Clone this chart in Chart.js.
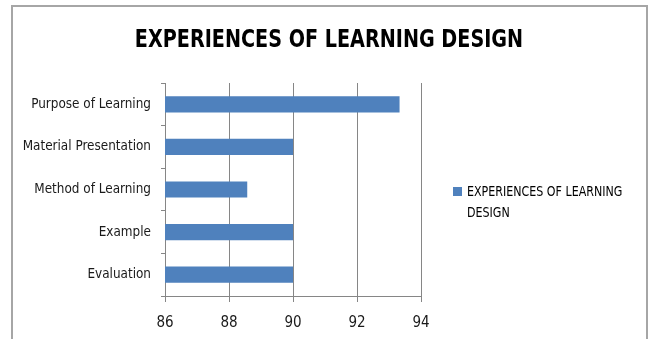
<!DOCTYPE html>
<html>
<head>
<meta charset="utf-8">
<script src="https://cdn.jsdelivr.net/npm/chart.js@4/dist/chart.umd.min.js"></script>
<style>
  html, body { margin: 0; padding: 0; background: #ffffff; }
  #wrap { position: relative; width: 651px; height: 339px; }
</style>
</head>
<body>
<div id="wrap"><canvas id="chart" width="651" height="339"></canvas></div>
<script>
// Chart content
const chartTitle = 'EXPERIENCES OF LEARNING DESIGN';
const seriesName = 'EXPERIENCES OF LEARNING DESIGN';
const categories = [
  'Purpose of Learning',
  'Material Presentation',
  'Method of Learning',
  'Example',
  'Evaluation'
];
const scores = [93.33, 90, 88.57, 90, 90];
const axisTicks = [86, 88, 90, 92, 94];

const FONT = "'Liberation Sans Narrow', 'DejaVu Sans Condensed', 'Arial Narrow', sans-serif";
const BAR_BLUE = '#4F81BD';
const GRID_GREY = '#868686';

// Draws text squeezed horizontally so the condensed face reads like a narrow one
function squeezedText(ctx, text, x, y, sx) {
  ctx.save();
  ctx.translate(x, y);
  ctx.scale(sx, 1);
  ctx.fillText(text, 0, 0);
  ctx.restore();
}

// Frame, title and a wrapping legend drawn around the plot
const decorations = {
  id: 'decorations',
  beforeDraw(chart) {
    const ctx = chart.ctx;
    ctx.save();
    ctx.strokeStyle = '#a6a6a6';
    ctx.lineWidth = 2;
    ctx.beginPath();
    ctx.moveTo(12, 345);
    ctx.lineTo(12, 6);
    ctx.lineTo(647, 6);
    ctx.lineTo(647, 345);
    ctx.stroke();
    ctx.restore();
  },
  afterDraw(chart) {
    const ctx = chart.ctx;
    ctx.save();
    // title
    ctx.fillStyle = '#000000';
    ctx.font = 'bold 25px ' + FONT;
    ctx.textAlign = 'center';
    ctx.textBaseline = 'middle';
    squeezedText(ctx, chartTitle, 329, 40, 0.853);

    // legend
    const ds = chart.data.datasets[0];
    ctx.fillStyle = ds.backgroundColor;
    ctx.fillRect(453, 187, 9, 9);
    ctx.font = '14px ' + FONT;
    ctx.textAlign = 'left';
    ctx.fillStyle = '#000000';
    const sx = 0.88;
    const words = ds.label.split(' ');
    const lines = [];
    let line = '';
    for (const w of words) {
      const test = line ? line + ' ' + w : w;
      if (ctx.measureText(test).width * sx > 172 && line) {
        lines.push(line);
        line = w;
      } else {
        line = test;
      }
    }
    if (line) lines.push(line);
    lines.forEach((t, i) => squeezedText(ctx, t, 467, 192 + i * 21, sx));
    ctx.restore();
  }
};

new Chart(document.getElementById('chart'), {
  type: 'bar',
  data: {
    labels: categories,
    datasets: [{
      label: seriesName,
      data: scores,
      backgroundColor: BAR_BLUE,
      borderWidth: 0,
      barPercentage: 0.38,
      categoryPercentage: 1.0
    }]
  },
  options: {
    indexAxis: 'y',
    responsive: false,
    animation: false,
    devicePixelRatio: 1,
    layout: { padding: { left: 0, top: 83, right: 230, bottom: 0 } },
    plugins: {
      legend: { display: false },
      title: { display: false },
      tooltip: { enabled: false }
    },
    scales: {
      x: {
        min: 86,
        max: 94,
        afterBuildTicks(scale) {
          scale.ticks = axisTicks.map(v => ({ value: v }));
        },
        afterFit(scale) { scale.height = 43; },
        grid: {
          color: GRID_GREY,
          lineWidth: 1,
          tickLength: 6,
          drawOnChartArea: true
        },
        border: { display: true, color: GRID_GREY, width: 1 },
        ticks: {
          color: '#1a1a1a',
          padding: 12,
          font: { family: FONT, size: 15 }
        }
      },
      y: {
        afterFit(scale) { scale.width = 165; },
        grid: {
          color: GRID_GREY,
          drawOnChartArea: false,
          tickLength: 4
        },
        border: { display: true, color: GRID_GREY, width: 1 },
        ticks: {
          color: '#1a1a1a',
          padding: 10,
          font: { family: FONT, size: 13.4 }
        }
      }
    }
  },
  plugins: [decorations]
});
</script>
</body>
</html>
